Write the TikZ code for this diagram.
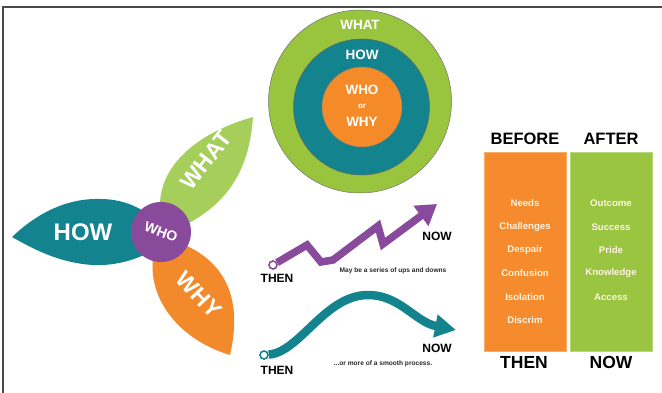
\documentclass[tikz,border=0pt]{standalone}
\usepackage{fontspec}
\setmainfont{Liberation Sans}
\usetikzlibrary{arrows.meta}
\definecolor{petalteal}{HTML}{13848F}
\definecolor{petalgreen}{HTML}{A6CE5A}
\definecolor{petalorange}{HTML}{F28A2B}
\definecolor{whopurple}{HTML}{8A4A9B}
\definecolor{ringgreen}{HTML}{98C43E}
\definecolor{ringteal}{HTML}{13838D}
\definecolor{ringorange}{HTML}{F48B28}
\definecolor{boxorange}{HTML}{F58B2C}
\definecolor{boxgreen}{HTML}{99C541}
\definecolor{itemtext}{HTML}{FFF4E2}
\definecolor{framegray}{HTML}{4A4A4A}
\begin{document}
\begin{tikzpicture}[x=1pt,y=-1pt,
  bigword/.style={text=white,font=\bfseries\fontsize{23}{23}\selectfont,inner sep=0pt},
  ringword/.style={text=white,font=\bfseries\fontsize{13.5}{13.5}\selectfont,inner sep=0pt},
  tag/.style={text=black,font=\bfseries\fontsize{12}{12}\selectfont,inner sep=0pt},
  note/.style={text=black!85,font=\bfseries\fontsize{6.6}{6.6}\selectfont,inner sep=0pt},
  head/.style={text=black,font=\bfseries\fontsize{16.5}{16.5}\selectfont,inner sep=0pt},
  item/.style={text=itemtext,font=\bfseries\fontsize{9.6}{9.6}\selectfont,inner sep=0pt},
  startdot/.style={circle,fill=white,line width=1.6pt,minimum size=8pt,inner sep=0pt},
]
\useasboundingbox (0,0) rectangle (662,393);

% page frame
\draw[framegray,line width=2pt] (3,393) -- (3,7) -- (662,7);

% ---- flower: petals around a central circle
\fill[petalteal] (12,237) .. controls (35,215) and (65,198) .. (100,199)
  .. controls (120,199) and (135,205) .. (150,215) -- (160,232) -- (150,252)
  .. controls (135,260) and (115,266) .. (93,265)
  .. controls (60,263) and (35,250) .. (12,237) -- cycle;
\fill[petalgreen] (160,205) .. controls (160,170) and (190,135) .. (253,117)
  .. controls (250,160) and (235,200) .. (185,225) -- (161,232) -- cycle;
\fill[petalorange] (153,258) .. controls (148,300) and (180,340) .. (230,355)
  .. controls (238,320) and (240,270) .. (185,245) -- (161,232) -- cycle;
\node[circle,fill=whopurple,minimum size=60pt,inner sep=0pt] (who) at (161,232) {};
\node[bigword,font=\bfseries\fontsize{14}{14}\selectfont,rotate=-20] (whotext) at (who) {WHO};
\node[bigword,font=\bfseries\fontsize{24}{24}\selectfont] (howtext) at (83,232) {HOW};
\node[bigword,rotate=52] (whattext) at (206,160) {WHAT};
\node[bigword,rotate=-47] (whytext) at (199,295) {WHY};

% ---- nested rings
\node[circle,fill=ringgreen,draw=black!55,line width=0.5pt,minimum size=183pt,inner sep=0pt] (outer) at (360,101.5) {};
\node[circle,fill=ringteal,draw=black!60,line width=0.5pt,minimum size=136pt,inner sep=0pt] (middle) at (361.5,107) {};
\node[circle,fill=ringorange,draw=black!50,line width=0.4pt,minimum size=80pt,inner sep=0pt] (inner) at (362,107) {};
\node[ringword] (rwhat) at (360,25) {WHAT};
\node[ringword] (rhow) at (362,55) {HOW};
\node[ringword] (rwho) at (362,90) {WHO};
\node[ringword,font=\bfseries\fontsize{8}{8}\selectfont] (ror) at (362,106) {or};
\node[ringword] (rwhy) at (362,122) {WHY};

% ---- ups and downs
\node[startdot,draw=whopurple] (zstart) at (273,265) {};
\coordinate (zend) at (437,204);
\draw[whopurple,line width=7.5pt,line join=miter,-{Triangle[length=20pt,width=24pt]}]
  (zstart) -- (307,245) -- (321,262) -- (333,260) -- (378,226) -- (383,244) -- (zend);
\node[tag] (zthen) at (277,278) {THEN};
\node[tag] (znow) at (437,236) {NOW};
\node[note] (znote) at (393,271) {May be a series of ups and downs};

% ---- smooth process
\node[startdot,draw=ringteal] (sstart) at (264,355) {};
\coordinate (send) at (456,330);
\draw[ringteal,line width=8.5pt,-{Triangle[length=21pt,width=22pt]}]
  (sstart) .. controls (300,352) and (325,295) .. (368,295)
  .. controls (400,295) and (415,322) .. (send);
\node[tag] (sthen) at (277,370) {THEN};
\node[tag] (snow) at (437,348) {NOW};
\node[note] (snote) at (383,364) {...or more of a smooth process.};

% ---- before / after columns
\node[draw=boxorange!70!white,fill=boxorange,line width=0.8pt,minimum width=82pt,minimum height=199pt,inner sep=0pt] (before) at (525,251.5) {};
\node[draw=boxgreen!70!white,fill=boxgreen,line width=0.8pt,minimum width=82pt,minimum height=199pt,inner sep=0pt] (after) at (611,251.5) {};
\node[head] (hbefore) at (525,139) {BEFORE};
\node[head] (hafter) at (611,139) {AFTER};
\node[head,font=\bfseries\fontsize{17.5}{17.5}\selectfont] (hthen) at (524,362) {THEN};
\node[head,font=\bfseries\fontsize{17.5}{17.5}\selectfont] (hnow) at (611,362) {NOW};
\node[item] (b1) at (525,203) {Needs};
\node[item] (b2) at (525,227) {Challenges};
\node[item] (b3) at (525,250) {Despair};
\node[item] (b4) at (525,273) {Confusion};
\node[item] (b5) at (525,297) {Isolation};
\node[item] (b6) at (525,320) {Discrim};
\node[item] (a1) at (611,203) {Outcome};
\node[item] (a2) at (611,227) {Success};
\node[item] (a3) at (611,250) {Pride};
\node[item] (a4) at (611,273) {Knowledge};
\node[item] (a5) at (611,297) {Access};
\end{tikzpicture}
\end{document}
